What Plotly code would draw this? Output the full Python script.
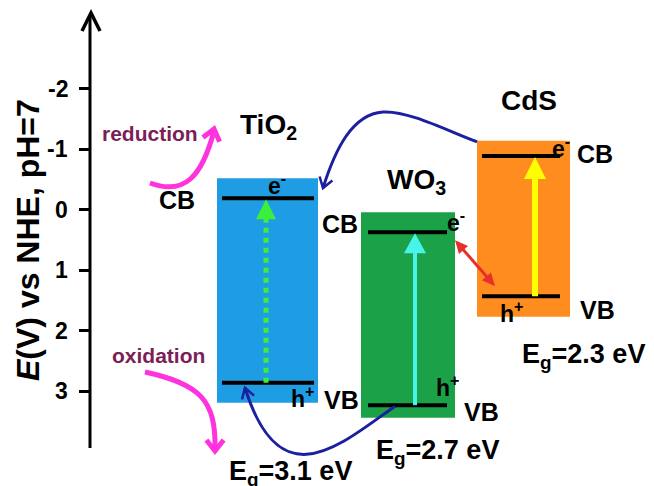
import math
import plotly.graph_objects as go

# ---------------- data (energies in V vs NHE, pH=7) ----------------
materials = ["TiO<sub>2</sub>", "WO<sub>3</sub>", "CdS"]
cb_level = [-0.19, 0.37, -0.89]
vb_level = [2.86, 3.23, 1.43]
box_top = [-0.52, 0.04, -1.14]
box_bottom = [3.19, 3.44, 1.77]
band_gap = [3.1, 2.7, 2.3]
tick_values = [-2, -1, 0, 1, 2, 3]
tick_labels = ["-2", "-1", "0", "1", "2", "3"]

# ---------------- styling / layout ----------------
W, H = 654, 486
PAGE = 8                      # default page margin of the html body
Y0, S = 209.75, 60.5          # screen row of E=0 and pixels per volt


def ey(p):                    # screen row -> energy (for layout placement)
    return (p - Y0) / S


def py(e):                    # energy -> screen row
    return Y0 + S * e


box_x0 = [217, 361, 477]
box_x1 = [318, 455, 570]
line_x0 = [222, 368, 482]
line_x1 = [314, 447, 560]
arrow_x = [266, 415, 535]
box_colors = ["#1f9de4", "#1ba249", "#ff8c1e"]
arrow_colors = ["#3dee3d", "#47f3ea", "#ffff00"]
arrow_widths = [5, 4, 6]
FONT = "Liberation Sans, Arial, sans-serif"
BLUE = "#1c1f9e"
MAG = "#ff33dd"

shapes = []


def seg_path(pts_px):
    s = "M {},{}".format(pts_px[0][0], ey(pts_px[0][1]))
    rest = pts_px[1:]
    for k in range(0, len(rest), 3):
        s += " C " + " ".join("{},{}".format(x, ey(y)) for x, y in rest[k:k + 3])
    return s


def chevron(tx, tyy, dx, dy, L, spread, color, width):
    n = math.hypot(dx, dy)
    bx, by = -dx / n, -dy / n
    pts = []
    for sgn in (-1, 1):
        a = math.radians(spread * sgn)
        pts.append((tx + L * (bx * math.cos(a) - by * math.sin(a)),
                    tyy + L * (bx * math.sin(a) + by * math.cos(a))))
    path = "M {},{} L {},{} L {},{}".format(pts[0][0], ey(pts[0][1]), tx, ey(tyy),
                                            pts[1][0], ey(pts[1][1]))
    shapes.append(dict(type="path", path=path, xref="x", yref="y",
                       line=dict(color=color, width=width)))


def tri(tx, tyy, dx, dy, L, Wd, color):
    n = math.hypot(dx, dy)
    ux, uy = dx / n, dy / n
    bx, byy = tx - L * ux, tyy - L * uy
    p1 = (bx - Wd * uy, byy + Wd * ux)
    p2 = (bx + Wd * uy, byy - Wd * ux)
    path = "M {},{} L {},{} L {},{} Z".format(tx, ey(tyy), p1[0], ey(p1[1]), p2[0], ey(p2[1]))
    shapes.append(dict(type="path", path=path, xref="x", yref="y",
                       fillcolor=color, line=dict(color=color, width=0)))


# y axis line with open arrow head
shapes.append(dict(type="line", xref="x", yref="y", x0=90, x1=90, y0=ey(448), y1=ey(15),
                   line=dict(color="black", width=3)))
shapes.append(dict(type="path", xref="x", yref="y",
                   path="M 82,{} L 91,{} L 100,{}".format(ey(31), ey(13), ey(31)),
                   line=dict(color="black", width=3.5)))

# band boxes and band edges
for i in range(3):
    shapes.append(dict(type="rect", xref="x", yref="y", x0=box_x0[i], x1=box_x1[i],
                       y0=box_top[i], y1=box_bottom[i], fillcolor=box_colors[i],
                       line=dict(width=0), layer="below"))
for i in range(3):
    for lev in (cb_level[i], vb_level[i]):
        shapes.append(dict(type="line", xref="x", yref="y", x0=line_x0[i], x1=line_x1[i],
                           y0=lev, y1=lev, line=dict(color="black", width=4)))

# excitation arrows VB -> CB
head_len = [20, 20, 22]
head_w = [10, 11, 11]
for i in range(3):
    tip = py(cb_level[i]) + 1
    shapes.append(dict(type="line", xref="x", yref="y", x0=arrow_x[i], x1=arrow_x[i],
                       y0=vb_level[i], y1=ey(tip + head_len[i] - 2),
                       line=dict(color=arrow_colors[i], width=arrow_widths[i],
                                 dash="5px,5px" if i == 0 else "solid")))
    tri(arrow_x[i], tip, 0, -1, head_len[i], head_w[i], arrow_colors[i])

# red double arrow between WO3 CB and CdS VB
rx0, ry0 = box_x1[1], py(cb_level[1]) + 8
rx1, ry1 = 495, py(vb_level[2]) - 10
shapes.append(dict(type="line", xref="x", yref="y", x0=rx0 + 6, y0=ey(ry0 + 7),
                   x1=rx1 - 6, y1=ey(ry1 - 7), line=dict(color="#e8302a", width=3)))
tri(rx0, ry0, rx0 - rx1, ry0 - ry1, 13, 6, "#e8302a")
tri(rx1, ry1, rx1 - rx0, ry1 - ry0, 13, 6, "#e8302a")

# blue electron-transfer curve: CdS CB -> TiO2
c1 = [(box_x0[2], py(box_top[2]) + 1), (452, 133), (408, 110), (383, 112),
      (352, 114), (335, 150), (323, 188)]
shapes.append(dict(type="path", xref="x", yref="y", path=seg_path(c1),
                   line=dict(color=BLUE, width=3)))
chevron(323, 188, -12, 38, 12, 34, BLUE, 2.5)

# blue hole-transfer curve: WO3 VB -> TiO2 VB
c2 = [(395, py(vb_level[1]) + 1), (340, 445), (280, 500), (245, py(vb_level[0]) + 5)]
shapes.append(dict(type="path", xref="x", yref="y", path=seg_path(c2),
                   line=dict(color=BLUE, width=3)))
chevron(245, py(vb_level[0]) + 5, 245 - 280, py(vb_level[0]) + 5 - 500, 12, 32, BLUE, 2.5)

# magenta reduction / oxidation arrows
m1 = [(150, 183), (185, 196), (202, 176), (214, 131)]
shapes.append(dict(type="path", xref="x", yref="y", path=seg_path(m1),
                   line=dict(color=MAG, width=5)))
chevron(214, 129, 214 - 202, 129 - 176, 14, 38, MAG, 5)
m2 = [(145, 372), (200, 384), (216, 400), (215, 449)]
shapes.append(dict(type="path", xref="x", yref="y", path=seg_path(m2),
                   line=dict(color=MAG, width=5)))
chevron(215, 451, 0, 1, 14, 38, MAG, 5)

# ---------------- text ----------------
annotations = []


def txt(text, x, ypx, size, color="black", angle=0):
    annotations.append(dict(text=text, x=x, y=ey(ypx), textangle=angle,
                            xref="x", yref="y", showarrow=False, xanchor="center",
                            yanchor="middle",
                            font=dict(family=FONT, size=size, color=color, weight="bold")))


# tick labels placed on the energy scale
for v, lab in zip(tick_values, tick_labels):
    annotations.append(dict(text=lab, x=70, y=v, xref="x", yref="y", showarrow=False,
                            xanchor="right", yanchor="middle",
                            font=dict(family=FONT, size=23, color="black", weight="bold")))

# y-axis title
txt("<i>E</i>(V) vs NHE, pH=7", 28, 240, 32, angle=-90)

mat_pos = [(268, 126), (416, 181), (529, 100)]
for i, m in enumerate(materials):
    txt(m, mat_pos[i][0], mat_pos[i][1], 28)

for (x, y) in [(177, 200), (340, 224), (595, 154)]:
    txt("CB", x, y, 25)
for (x, y) in [(341, 400), (481, 412), (597, 310)]:
    txt("VB", x, y, 25)
for (x, y) in [(277, 184), (456, 221), (561, 147)]:
    txt("e<sup>-</sup>", x, y, 23)
for (x, y) in [(302, 397), (447, 386), (511, 312)]:
    txt("h<sup>+</sup>", x, y, 23)

eg_pos = [(290, 473), (437, 452), (583, 356)]
for i in range(3):
    txt("E<sub>g</sub>=%.1f eV" % band_gap[i], eg_pos[i][0], eg_pos[i][1], 27)

txt("reduction", 150, 133, 21, color="#7b1e57")
txt("oxidation", 158, 355, 21, color="#7b1e57")

fig = go.Figure()
fig.add_trace(go.Scatter(x=[None], y=[None], showlegend=False))
fig.update_layout(
    width=W, height=H,
    margin=dict(l=0, r=0, t=0, b=0),
    paper_bgcolor="white", plot_bgcolor="white",
    showlegend=False,
    xaxis=dict(range=[PAGE, PAGE + W], visible=False, domain=[0, 1]),
    yaxis=dict(range=[ey(PAGE + H), ey(PAGE)], anchor="free", position=(90 - PAGE) / W,
               tickmode="array", tickvals=tick_values, ticktext=tick_labels,
               ticks="outside", ticklen=11, tickwidth=3, tickcolor="black",
               showticklabels=False,
               showline=False, showgrid=False, zeroline=False),
    shapes=shapes,
    annotations=annotations,
)
fig.write_html("out.html")
